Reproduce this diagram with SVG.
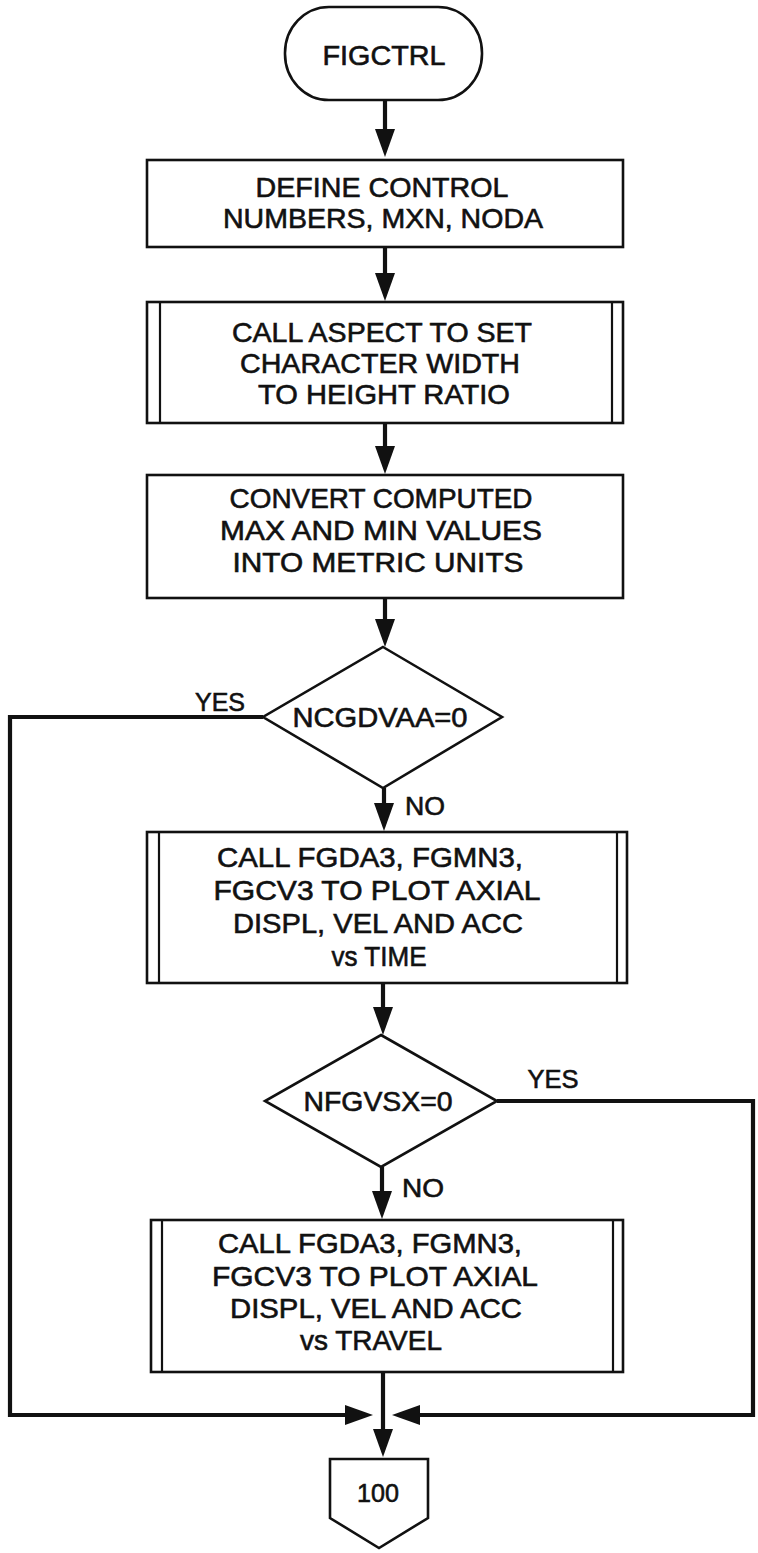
<svg xmlns="http://www.w3.org/2000/svg" width="758" height="1553" viewBox="0 0 758 1553">
<style>
  .bg{fill:#ffffff}
  .shape{fill:#ffffff;stroke:#111111;stroke-width:2.6}
  .inner{stroke:#111111;stroke-width:2.2}
  .flow{fill:none;stroke:#111111;stroke-width:4.2;stroke-linejoin:miter}
  text{font-family:"Liberation Sans",Arial,Helvetica,sans-serif;fill:#111111;stroke:#111111;stroke-width:0.6;text-anchor:middle}
  .t{font-size:28px}
  .d{font-size:27px}
  .lbl{font-size:26px}
</style>
<defs>
  <marker id="ah" viewBox="0 0 28 20" refX="18" refY="10" markerWidth="28" markerHeight="20" markerUnits="userSpaceOnUse" orient="auto">
    <path d="M0,0 L28,10 L0,20 Z" fill="#111111"/>
  </marker>
</defs>
<rect class="bg" x="0" y="0" width="758" height="1553"/>

<g id="connectors">
  <line class="flow" x1="385" y1="100" x2="385" y2="147" marker-end="url(#ah)"/>
  <line class="flow" x1="385" y1="247" x2="385" y2="291" marker-end="url(#ah)"/>
  <line class="flow" x1="385" y1="423" x2="385" y2="464" marker-end="url(#ah)"/>
  <line class="flow" x1="385" y1="598" x2="385" y2="637" marker-end="url(#ah)"/>
  <line class="flow" x1="384" y1="788" x2="384" y2="821" marker-end="url(#ah)"/>
  <line class="flow" x1="383" y1="983" x2="383" y2="1025" marker-end="url(#ah)"/>
  <line class="flow" x1="382" y1="1167" x2="382" y2="1209" marker-end="url(#ah)"/>
  <line class="flow" x1="383" y1="1372" x2="383" y2="1447" marker-end="url(#ah)"/>
  <polyline class="flow" points="263,717 10,717 10,1415 363,1415" marker-end="url(#ah)"/>
  <polyline class="flow" points="497,1101 753,1101 753,1415 402,1415" marker-end="url(#ah)"/>
  <text class="lbl" x="220" y="711" textLength="50" lengthAdjust="spacingAndGlyphs">YES</text>
  <text class="lbl" x="425" y="815" textLength="40" lengthAdjust="spacingAndGlyphs">NO</text>
  <text class="lbl" x="553" y="1088" textLength="51" lengthAdjust="spacingAndGlyphs">YES</text>
  <text class="lbl" x="423" y="1197" textLength="42" lengthAdjust="spacingAndGlyphs">NO</text>
</g>

<g id="start">
  <rect class="shape" x="285" y="7" width="197" height="93" rx="44" ry="46"/>
  <text class="t" x="384" y="65" textLength="123" lengthAdjust="spacingAndGlyphs">FIGCTRL</text>
</g>

<g id="define">
  <rect class="shape" x="147" y="160" width="476" height="87"/>
  <text class="t" x="382" y="197" textLength="253" lengthAdjust="spacingAndGlyphs">DEFINE CONTROL</text>
  <text class="t" x="383" y="228" textLength="320" lengthAdjust="spacingAndGlyphs">NUMBERS, MXN, NODA</text>
</g>

<g id="aspect">
  <rect class="shape" x="147" y="302" width="476" height="121"/>
  <line class="inner" x1="160" y1="302" x2="160" y2="423"/>
  <line class="inner" x1="612" y1="302" x2="612" y2="423"/>
  <text class="t" x="382" y="342" textLength="300" lengthAdjust="spacingAndGlyphs">CALL ASPECT TO SET</text>
  <text class="t" x="380" y="373" textLength="280" lengthAdjust="spacingAndGlyphs">CHARACTER WIDTH</text>
  <text class="t" x="384" y="404" textLength="252" lengthAdjust="spacingAndGlyphs">TO HEIGHT RATIO</text>
</g>

<g id="convert">
  <rect class="shape" x="147" y="475" width="476" height="123"/>
  <text class="t" x="381" y="508" textLength="303" lengthAdjust="spacingAndGlyphs">CONVERT COMPUTED</text>
  <text class="t" x="381" y="540" textLength="322" lengthAdjust="spacingAndGlyphs">MAX AND MIN VALUES</text>
  <text class="t" x="378" y="572" textLength="291" lengthAdjust="spacingAndGlyphs">INTO METRIC UNITS</text>
</g>

<g id="dec1">
  <polygon class="shape" points="383,647 502,717 383,788 263,717"/>
  <text class="d" x="380" y="727" textLength="175" lengthAdjust="spacingAndGlyphs">NCGDVAA=0</text>
</g>

<g id="plotTime">
  <rect class="shape" x="147" y="832" width="480" height="151"/>
  <line class="inner" x1="159" y1="832" x2="159" y2="983"/>
  <line class="inner" x1="617" y1="832" x2="617" y2="983"/>
  <text class="t" x="370" y="867" textLength="306" lengthAdjust="spacingAndGlyphs">CALL FGDA3, FGMN3,</text>
  <text class="t" x="377" y="900" textLength="327" lengthAdjust="spacingAndGlyphs">FGCV3 TO PLOT AXIAL</text>
  <text class="t" x="378" y="933" textLength="290" lengthAdjust="spacingAndGlyphs">DISPL, VEL AND ACC</text>
  <text class="t" x="379" y="966" textLength="95" lengthAdjust="spacingAndGlyphs">vs TIME</text>
</g>

<g id="dec2">
  <polygon class="shape" points="381,1035 497,1101 381,1167 265,1101"/>
  <text class="d" x="378" y="1111" textLength="149" lengthAdjust="spacingAndGlyphs">NFGVSX=0</text>
</g>

<g id="plotTravel">
  <rect class="shape" x="151" y="1220" width="472" height="152"/>
  <line class="inner" x1="162" y1="1220" x2="162" y2="1372"/>
  <line class="inner" x1="613" y1="1220" x2="613" y2="1372"/>
  <text class="t" x="370" y="1253" textLength="304" lengthAdjust="spacingAndGlyphs">CALL FGDA3, FGMN3,</text>
  <text class="t" x="375" y="1286" textLength="326" lengthAdjust="spacingAndGlyphs">FGCV3 TO PLOT AXIAL</text>
  <text class="t" x="376" y="1318" textLength="292" lengthAdjust="spacingAndGlyphs">DISPL, VEL AND ACC</text>
  <text class="t" x="371" y="1350" textLength="142" lengthAdjust="spacingAndGlyphs">vs TRAVEL</text>
</g>

<g id="offpage100">
  <polygon class="shape" points="330,1459 428,1459 428,1518 379,1548 330,1518"/>
  <text class="lbl" x="378" y="1502" textLength="42" lengthAdjust="spacingAndGlyphs">100</text>
</g>
</svg>
